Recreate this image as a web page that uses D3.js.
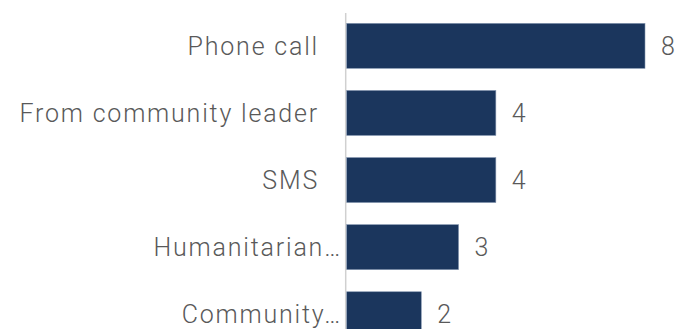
<!DOCTYPE html>
<html>
<head>
<meta charset="utf-8">
<script src="https://cdn.jsdelivr.net/npm/d3@7"></script>
<style>
  html, body { margin: 0; padding: 0; background: #ffffff; }
  svg { display: block; }
  text { font-family: Roboto, "Open Sans", sans-serif; font-weight: 300; letter-spacing: 1.8px; }
</style>
</head>
<body>
<svg id="chart" width="677" height="329"></svg>
<script>
// Channels and counts, top to bottom
const categories = ["Phone call", "From community leader", "SMS", "Humanitarian…", "Community…"];
const counts = [8, 4, 4, 3, 2];

const svg = d3.select("#chart");
const W = 677, H = 329;
const x0 = 346.7, step = 67.1, firstTop = 23.3, barH = 45;

const x = d3.scaleLinear().domain([0, 8]).range([x0, 645]);
const y = d3.scaleBand()
  .domain(categories)
  .range([firstTop - 11, firstTop - 11 + step * categories.length])
  .paddingInner((step - barH) / step)
  .paddingOuter((step - barH) / step / 2);

// Baseline axis
svg.append("line")
  .attr("x1", 345.7).attr("x2", 345.7)
  .attr("y1", 13).attr("y2", H)
  .attr("stroke", "#d0d0d0").attr("stroke-width", 1.5);

// Bars
svg.selectAll("rect.bar")
  .data(categories)
  .join("rect")
  .attr("class", "bar")
  .attr("x", x(0))
  .attr("y", d => y(d))
  .attr("width", (d, i) => x(counts[i]) - x(0))
  .attr("height", y.bandwidth())
  .attr("fill", "#1b365d")
  .attr("stroke", "#8496b0")
  .attr("stroke-width", 0.6);

// Category labels
svg.selectAll("text.cat")
  .data(categories)
  .join("text")
  .attr("class", "cat")
  .attr("x", d => d.endsWith("…") ? 342 : 319)
  .attr("y", d => y(d) + y.bandwidth() / 2 + 9)
  .attr("text-anchor", "end")
  .attr("font-size", 25)
  .attr("fill", "#595959")
  .text(d => d);

// Value labels
svg.selectAll("text.val")
  .data(categories)
  .join("text")
  .attr("class", "val")
  .attr("x", (d, i) => x(counts[i]) + 16)
  .attr("y", d => y(d) + y.bandwidth() / 2 + 9)
  .attr("font-size", 25)
  .attr("fill", "#595959")
  .text((d, i) => counts[i]);
</script>
</body>
</html>
